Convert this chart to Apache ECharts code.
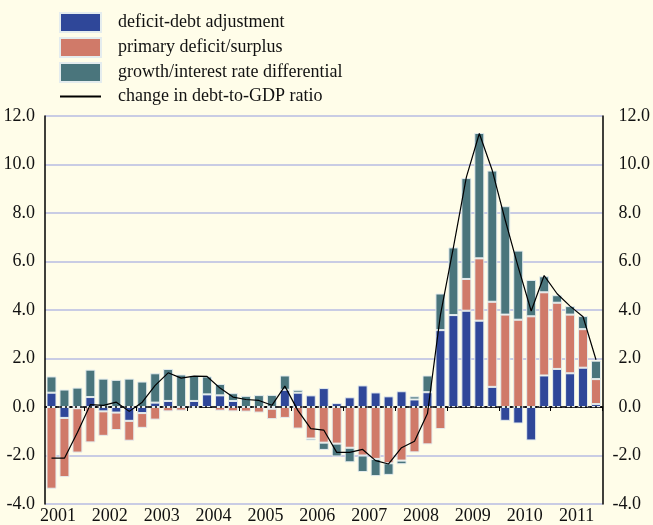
<!DOCTYPE html>
<html>
<head>
<meta charset="utf-8">
<script src="https://cdn.jsdelivr.net/npm/echarts@6/dist/echarts.min.js"></script>
<style>
  html, body { margin: 0; padding: 0; background: #fffde9; }
  #chart { width: 653px; height: 525px; }
</style>
</head>
<body>
<div id="chart"></div>
<script>
// Quarterly periods, 2001 Q2 to 2011 Q4
const years = [2001,2001,2001,
  2002,2002,2002,2002, 2003,2003,2003,2003, 2004,2004,2004,2004,
  2005,2005,2005,2005, 2006,2006,2006,2006, 2007,2007,2007,2007,
  2008,2008,2008,2008, 2009,2009,2009,2009, 2010,2010,2010,2010,
  2011,2011,2011,2011];
const quarters = [2,3,4,
  1,2,3,4, 1,2,3,4, 1,2,3,4,
  1,2,3,4, 1,2,3,4, 1,2,3,4,
  1,2,3,4, 1,2,3,4, 1,2,3,4,
  1,2,3,4];

// Contributions to the change in the debt-to-GDP ratio (percentage points)
const deficitDebtAdjustment = [0.59,-0.45,-0.05,
  0.41,-0.18,-0.23,-0.57, -0.25,0.18,0.25,0.0, 0.25,0.52,0.48,0.25,
  0.0,0.0,-0.07,0.71, 0.59,0.48,0.78,0.16, 0.40,0.89,0.60,0.44,
  0.65,0.31,0.61,3.17, 3.79,3.97,3.56,0.83, -0.57,-0.68,-1.38,1.30,
  1.57,1.39,1.62,0.12];
const primaryDeficit = [-3.37,-2.44,-1.83,
  -1.46,-1.01,-0.72,-0.82, -0.61,-0.52,-0.18,-0.15, -0.05,0.0,-0.15,-0.18,
  -0.19,-0.23,-0.43,-0.45, -0.89,-1.30,-1.47,-1.51, -1.68,-2.00,-2.14,-2.32,
  -2.21,-1.87,-1.54,-0.91, 0.0,1.31,2.57,3.51, 3.81,3.60,3.74,3.43,
  2.73,2.42,1.59,1.03];
const growthInterest = [0.67,0.72,0.80,
  1.13,1.17,1.12,1.17, 1.05,1.21,1.32,1.34, 1.05,0.74,0.47,0.32,
  0.46,0.49,0.50,0.59, 0.12,-0.08,-0.30,-0.53, -0.60,-0.68,-0.71,-0.48,
  -0.15,0.13,0.69,1.51, 2.79,4.16,5.17,5.41, 4.47,2.85,1.50,0.66,
  0.31,0.35,0.54,0.76];
const debtRatioChange = [-2.11,-2.11,-1.05,
  0.10,0.07,0.20,-0.18, 0.20,0.89,1.41,1.19, 1.27,1.26,0.78,0.41,
  0.31,0.27,0.07,0.86, -0.14,-0.89,-0.95,-1.87, -1.87,-1.75,-2.21,-2.35,
  -1.68,-1.41,-0.27,3.80, 6.58,9.48,11.28,9.75, 7.70,5.77,3.96,5.42,
  4.67,4.16,3.72,1.95];

const categories = years.map((y, i) => y + 'Q' + quarters[i]);

const FONT = 'Liberation Serif';
const INK = '#111111';
const barBorder = { borderColor: '#e4ecee', borderWidth: 1 };

const chart = echarts.init(document.getElementById('chart'), null, { renderer: 'canvas' });

chart.setOption({
  backgroundColor: '#fffde9',
  animation: false,
  textStyle: { fontFamily: FONT, color: INK },
  legend: {
    orient: 'vertical',
    left: 59,
    top: 12,
    padding: 0,
    itemWidth: 41,
    itemHeight: 19,
    itemGap: 4,
    selectedMode: false,
    textStyle: { fontFamily: FONT, fontSize: 18, color: INK, lineHeight: 19, padding: [0, 0, 0, 12] },
    data: [
      { name: 'deficit-debt adjustment', icon: 'rect' },
      { name: 'primary deficit/surplus', icon: 'rect' },
      { name: 'growth/interest rate differential', icon: 'rect' },
      { name: 'change in debt-to-GDP ratio', itemStyle: { opacity: 0 } }
    ]
  },
  grid: { left: 45, right: 50, top: 116, bottom: 20, containLabel: false },
  xAxis: {
    type: 'category',
    data: categories,
    boundaryGap: true,
    axisLine: { show: true, lineStyle: { color: '#000', width: 1.5 } },
    axisTick: {
      show: true,
      length: 4,
      lineStyle: { color: '#000', width: 1 },
      interval: (i) => quarters[i] === 1
    },
    axisLabel: {
      interval: (i) => quarters[i] === 2,
      margin: 3,
      fontFamily: FONT,
      fontSize: 18,
      color: INK,
      formatter: (v) => '{y|' + v.slice(0, 4) + '}',
      rich: { y: { fontFamily: FONT, fontSize: 18, color: INK, padding: [0, 0, 0, 13] } }
    },
    splitLine: { show: false }
  },
  yAxis: [
    {
      type: 'value',
      position: 'left',
      min: -4, max: 12, interval: 2,
      axisLine: { show: true, lineStyle: { color: '#000', width: 1.5 } },
      axisTick: { show: false },
      axisLabel: {
        margin: 10, fontFamily: FONT, fontSize: 18, color: INK,
        formatter: (v) => v.toFixed(1)
      },
      splitLine: { show: true, lineStyle: { color: '#b7bbe2', width: 1.5 } }
    },
    {
      type: 'value',
      position: 'right',
      min: -4, max: 12, interval: 2,
      axisLine: { show: true, lineStyle: { color: '#000', width: 1.5 } },
      axisTick: { show: false },
      axisLabel: {
        margin: 10, align: 'left', fontFamily: FONT, fontSize: 18, color: INK,
        formatter: (v) => v < 0 ? v.toFixed(1) : '{p|' + v.toFixed(1) + '}',
        rich: { p: { fontFamily: FONT, fontSize: 18, color: INK, padding: [0, 0, 0, 6] } }
      },
      splitLine: { show: false }
    }
  ],
  series: [
    {
      // dotted zero baseline, drawn underneath the bars
      name: 'baseline',
      type: 'line',
      data: [],
      z: 1,
      silent: true,
      markLine: {
        silent: true,
        symbol: 'none',
        label: { show: false },
        lineStyle: { color: '#000', type: [2, 3], width: 1.5 },
        data: [{ yAxis: 0 }]
      }
    },
    {
      name: 'deficit-debt adjustment',
      type: 'bar', stack: 'contrib', stackStrategy: 'samesign',
      barWidth: '77%', z: 2,
      itemStyle: Object.assign({ color: '#2f4799' }, barBorder),
      data: deficitDebtAdjustment
    },
    {
      name: 'primary deficit/surplus',
      type: 'bar', stack: 'contrib', stackStrategy: 'samesign',
      barWidth: '77%', z: 2,
      itemStyle: Object.assign({ color: '#d07a69' }, barBorder),
      data: primaryDeficit
    },
    {
      name: 'growth/interest rate differential',
      type: 'bar', stack: 'contrib', stackStrategy: 'samesign',
      barWidth: '77%', z: 2,
      itemStyle: Object.assign({ color: '#4a757c' }, barBorder),
      data: growthInterest
    },
    {
      name: 'change in debt-to-GDP ratio',
      type: 'line',
      z: 5,
      symbol: 'none',
      showSymbol: false,
      lineStyle: { color: '#000', width: 1.2 },
      itemStyle: { color: '#000' },
      data: debtRatioChange
    }
  ]
});
</script>
</body>
</html>
